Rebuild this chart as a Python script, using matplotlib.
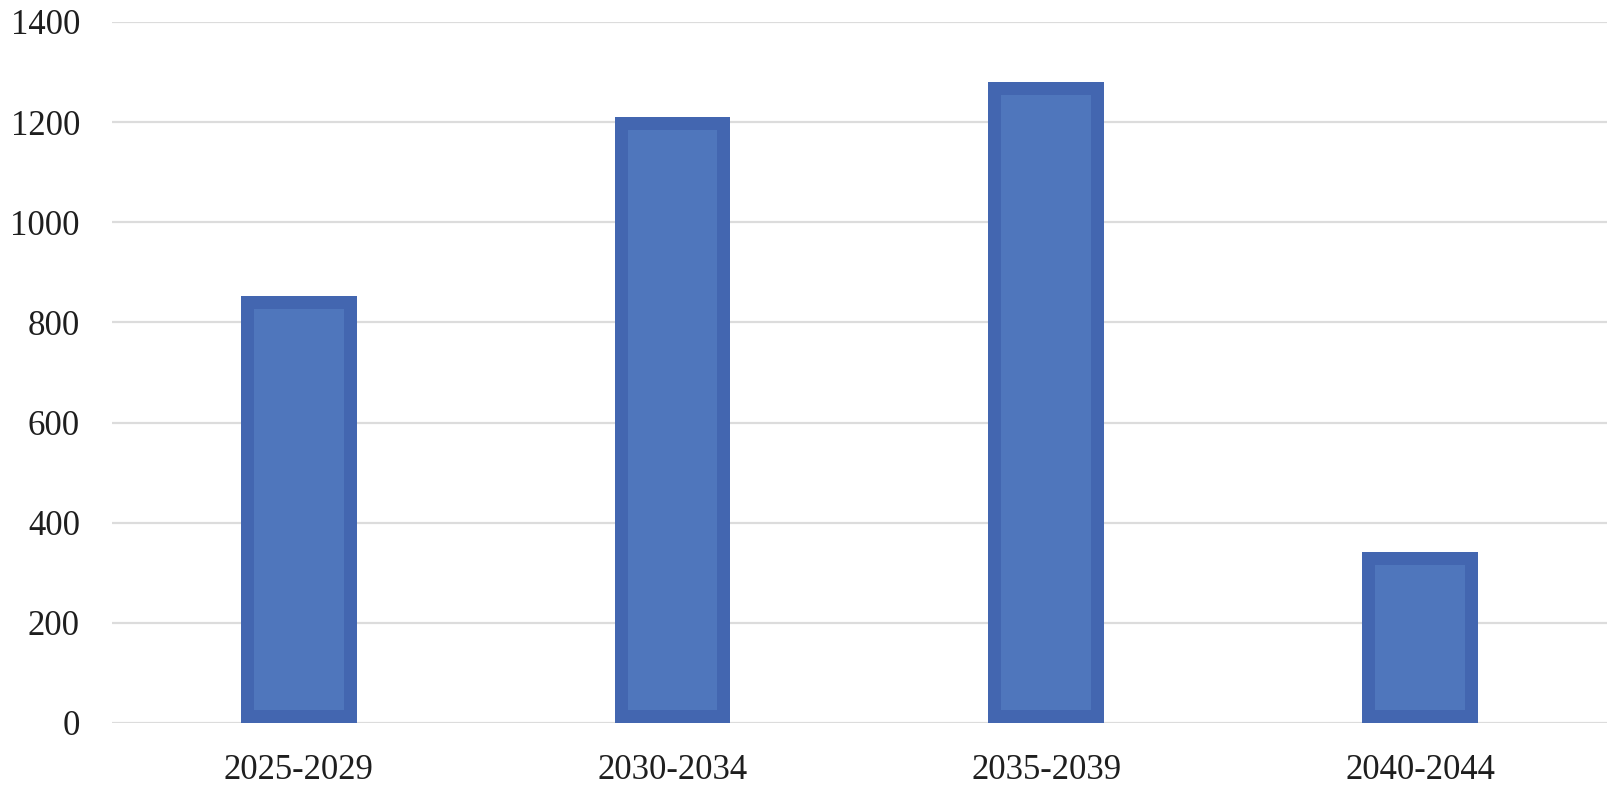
import matplotlib
matplotlib.use("Agg")
import matplotlib.pyplot as plt
import numpy as np

# values
periods = ["2025-2029", "2030-2034", "2035-2039", "2040-2044"]
values = [852, 1211, 1281, 341]
y_ticks = [0, 200, 400, 600, 800, 1000, 1200, 1400]

EDGE = "#4366B0"
FILL = "#4F76BC"
GRID = "#DCDCDC"

plt.rcParams["font.family"] = ["Liberation Serif", "DejaVu Serif"]

fig = plt.figure(figsize=(16.15, 7.85), dpi=100)
ax = fig.add_axes([0.0693, 0.079, 0.9257, 0.893])

x = np.arange(len(periods))
bar_w = 0.31
ax.set_xlim(-0.5, len(periods) - 0.5)
ax.set_ylim(0, 1400)

# inset of the lighter inner panel, ~13 px converted to data units
fig.canvas.draw()
bbox = ax.get_window_extent()
px = 13
dx = px * (len(periods)) / bbox.width
dy = px * 1400 / bbox.height

ax.bar(x, values, width=bar_w, color=EDGE, zorder=3)
ax.bar(x, [v - 2 * dy for v in values], bottom=dy, width=bar_w - 2 * dx,
       color=FILL, zorder=4)

ax.set_yticks(y_ticks)
ax.set_xticks(x)
ax.set_xticklabels(periods)
ax.yaxis.grid(True, color=GRID, linewidth=1.6, zorder=0)
ax.tick_params(axis="both", length=0, labelsize=25, colors="#1e1e1e")
ax.tick_params(axis="y", pad=23)
ax.tick_params(axis="x", pad=22)
for s in ax.spines.values():
    s.set_visible(False)

fig.savefig("out.png", dpi=100, facecolor="white")
